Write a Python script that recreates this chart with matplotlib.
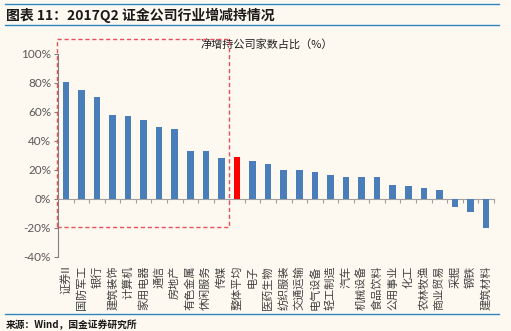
import matplotlib
matplotlib.use("Agg")
import matplotlib.pyplot as plt
from matplotlib.patches import Rectangle
from matplotlib.lines import Line2D

plt.rcParams['font.family'] = ['Noto Sans CJK SC', 'DejaVu Sans']

industries = ["证券II", "国防军工", "银行", "建筑装饰", "计算机", "家用电器", "通信",
              "房地产", "有色金属", "休闲服务", "传媒", "整体平均", "电子", "医药生物",
              "纺织服装", "交通运输", "电气设备", "轻工制造", "汽车", "机械设备",
              "食品饮料", "公用事业", "化工", "农林牧渔", "商业贸易", "采掘", "钢铁", "建筑材料"]
net_share = [81, 75, 70, 58, 57, 54.5, 49.7, 48.5, 33.1, 33, 28.5, 28.7, 26.5, 24.1,
             19.8, 19.8, 18.9, 16.6, 15.2, 15, 15, 9.7, 9.0, 7.5, 6.1, -5.7, -9.2, -20]
highlight = "整体平均"
yticks = [-40, -20, 0, 20, 40, 60, 80, 100]

bg = "#FEF9F0"
blue_bar = "#4A7EBB"
line_blue = "#2E86C1"

fig = plt.figure(figsize=(5.11, 3.31), dpi=100, facecolor=bg)
ax = fig.add_axes([0.1135, 0.2236, 0.853, 0.6133], facecolor=bg)

x = list(range(len(industries)))
colors = ["#FF0000" if c == highlight else blue_bar for c in industries]
ax.bar(x, net_share, width=0.42, color=colors, zorder=3)

ax.set_xlim(-0.5, len(industries) - 0.5)
ax.set_ylim(-40, 100)
ax.set_yticks(yticks)
ax.set_yticklabels([f"{v}%" for v in yticks], family="Lato", fontsize=8.5, color="#595959")
ax.tick_params(axis="y", length=3, width=0.8, color="#7f7f7f", pad=2)

for s in ["top", "right"]:
    ax.spines[s].set_visible(False)
ax.spines["left"].set_color("#7f7f7f")
ax.spines["left"].set_linewidth(0.8)
ax.spines["bottom"].set_position(("data", 0))
ax.spines["bottom"].set_color("#a0a0a0")
ax.spines["bottom"].set_linewidth(0.8)
ax.set_xticks([i + 0.5 for i in x])
ax.set_xticklabels([])
ax.tick_params(axis="x", length=3, width=0.8, color="#a0a0a0")

sec = ax.secondary_xaxis("bottom")
sec.set_xticks(x)
sec.set_xticklabels(industries, rotation=90, fontsize=8, color="#404040")
sec.tick_params(length=0, pad=6)
sec.spines["bottom"].set_visible(False)

# dashed highlight box around the above-average industries
ax.add_patch(Rectangle((-0.55, -19), 11.05, 129, fill=False, ec="#E5505A", lw=1.0,
                       ls=(0, (3, 2)), clip_on=False, zorder=4))

ax.text(0.48, 1.045, "净增持公司家数占比（%）", transform=ax.transAxes, ha="center",
        va="center", fontsize=8, color="#202020")

# report header / footer
fig.add_artist(Line2D([0.01, 0.977], [0.987, 0.987], color=line_blue, lw=1.0))
fig.add_artist(Line2D([0.01, 0.977], [0.924, 0.924], color=line_blue, lw=1.0))
fig.text(0.012, 0.955, "图表 11：2017Q2 证金公司行业增减持情况", fontsize=10,
         fontweight="bold", style="italic", color="#1a1a1a", va="center")
fig.add_artist(Line2D([0.01, 0.977], [0.051, 0.051], color=line_blue, lw=1.0))
fig.text(0.012, 0.018, "来源：Wind，国金证券研究所", fontsize=7, fontweight="bold",
         color="#1a1a1a", va="center")

fig.savefig("out.png", dpi=100, facecolor=bg)
